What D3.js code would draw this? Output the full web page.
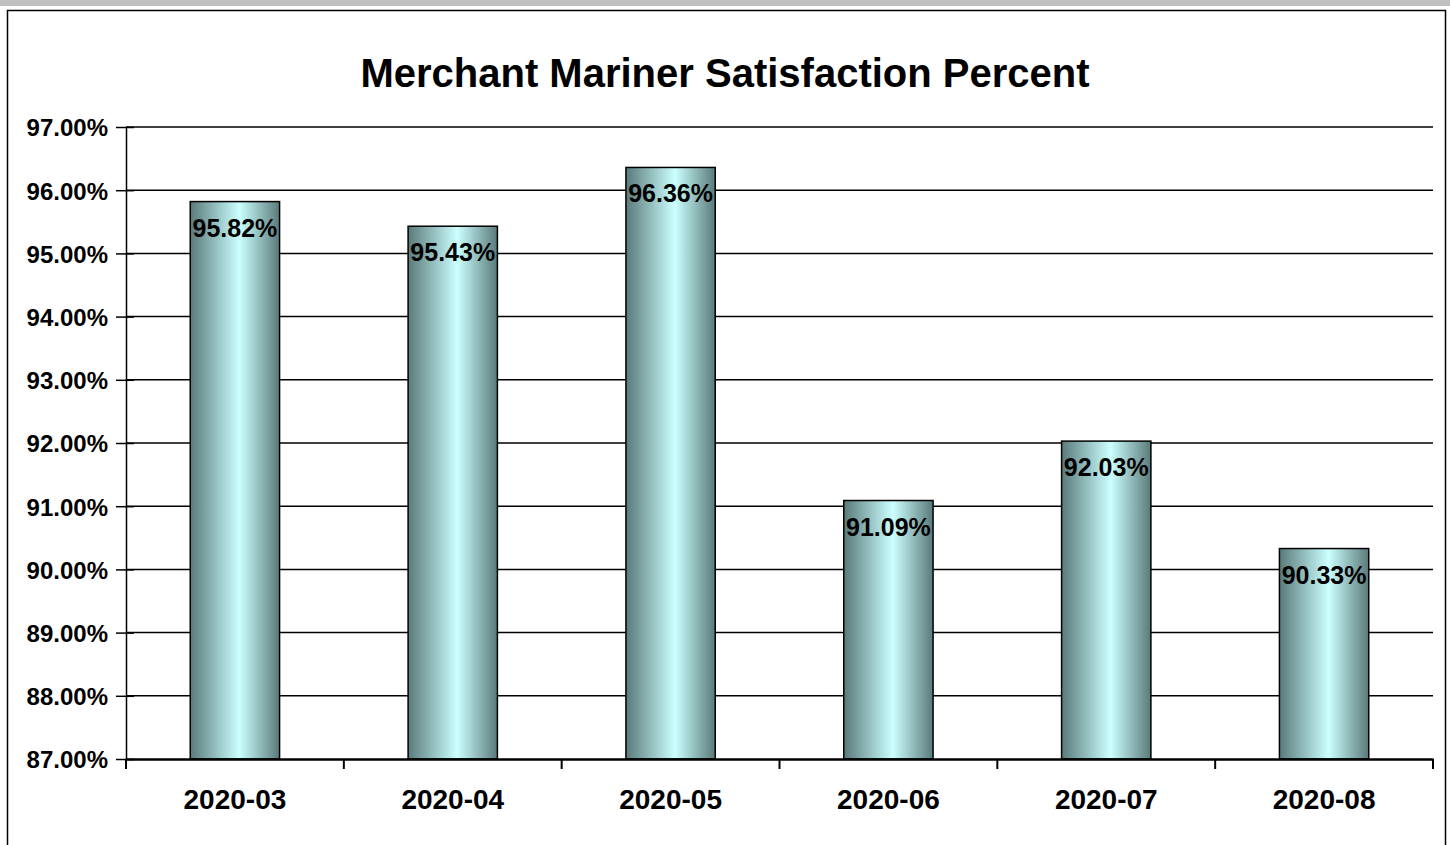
<!DOCTYPE html>
<html>
<head>
<meta charset="utf-8">
<script src="https://cdn.jsdelivr.net/npm/d3@7"></script>
<style>
  html, body { margin: 0; padding: 0; background: #fff; }
  svg { display: block; font-family: Arial, "Liberation Sans", sans-serif; }
</style>
</head>
<body>
<div id="chart"></div>
<script>
const months = ["2020-03", "2020-04", "2020-05", "2020-06", "2020-07", "2020-08"];
const satisfaction = [95.82, 95.43, 96.36, 91.09, 92.03, 90.33];
const yTicks = [87, 88, 89, 90, 91, 92, 93, 94, 95, 96, 97];
const chartTitle = "Merchant Mariner Satisfaction Percent";

const W = 1450, H = 845;
const plot = {left: 126, top: 127, right: 1433, bottom: 759};
const FONT = "Arial, 'Liberation Sans', sans-serif";

const svg = d3.select("#chart").append("svg")
    .attr("width", W)
    .attr("height", H);

// grey strip on top and the chart frame
svg.append("rect").attr("x", 0).attr("y", 0).attr("width", W).attr("height", 6).attr("fill", "#c0c0c0");
svg.append("rect")
    .attr("x", 7.5).attr("y", 10.5)
    .attr("width", 1438).attr("height", 845)
    .attr("fill", "#fff").attr("stroke", "#000").attr("stroke-width", 1.5);

const grad = svg.append("defs").append("linearGradient")
    .attr("id", "barGrad")
    .attr("x1", "0%").attr("x2", "100%").attr("y1", "0%").attr("y2", "0%");
grad.append("stop").attr("offset", "0%").attr("stop-color", "#5a7a7a");
grad.append("stop").attr("offset", "55%").attr("stop-color", "#ccffff");
grad.append("stop").attr("offset", "100%").attr("stop-color", "#5a7a7a");

const x = d3.scaleBand()
    .domain(months)
    .range([plot.left, plot.right])
    .paddingInner(0.59)
    .paddingOuter(0.295);

const y = d3.scaleLinear()
    .domain([87, 97])
    .range([plot.bottom, plot.top]);

// gridlines
svg.append("g")
    .selectAll("line")
    .data(yTicks.slice(1))
    .join("line")
    .attr("x1", plot.left).attr("x2", plot.right)
    .attr("y1", d => y(d)).attr("y2", d => y(d))
    .attr("stroke", "#000").attr("stroke-width", 1.5);

// bars
svg.append("g")
    .selectAll("rect")
    .data(satisfaction)
    .join("rect")
    .attr("x", (d, i) => x(months[i]))
    .attr("y", d => y(d))
    .attr("width", x.bandwidth())
    .attr("height", d => y(87) - y(d))
    .attr("fill", "url(#barGrad)")
    .attr("stroke", "#000").attr("stroke-width", 1.5);

// value labels
svg.append("g")
    .selectAll("text")
    .data(satisfaction)
    .join("text")
    .attr("x", (d, i) => x(months[i]) + x.bandwidth() / 2)
    .attr("y", d => y(d) + 35)
    .attr("text-anchor", "middle")
    .attr("font-size", 25)
    .attr("font-weight", "bold")
    .text(d => d.toFixed(2) + "%");

// y axis
const yAxis = svg.append("g")
    .attr("transform", `translate(${plot.left},0)`)
    .call(d3.axisLeft(y).tickValues(yTicks).tickSize(0).tickPadding(18)
        .tickFormat(d => d.toFixed(2) + "%"));
yAxis.select(".domain").attr("stroke-width", 1.5);
yAxis.selectAll(".tick text")
    .attr("font-size", 24).attr("font-weight", "bold").attr("fill", "#000")
    .attr("font-family", FONT).attr("dy", "0.37em");
yAxis.selectAll(".tick").append("line")
    .attr("x1", -10).attr("x2", 8)
    .attr("stroke", "#000").attr("stroke-width", 1.5);

// x axis
const xAxis = svg.append("g")
    .attr("transform", `translate(0,${plot.bottom})`)
    .call(d3.axisBottom(x).tickSize(0).tickPadding(30));
xAxis.select(".domain").attr("stroke-width", 2.5);
xAxis.selectAll(".tick text")
    .attr("font-size", 28).attr("font-weight", "bold").attr("fill", "#000")
    .attr("font-family", FONT);
// category separators below the axis
const seps = d3.range(months.length + 1).map(i => plot.left + i * x.step());
svg.append("g")
    .selectAll("line")
    .data(seps)
    .join("line")
    .attr("x1", d => d).attr("x2", d => d)
    .attr("y1", plot.bottom).attr("y2", plot.bottom + 10)
    .attr("stroke", "#000").attr("stroke-width", 2);

svg.append("text")
    .attr("x", 725)
    .attr("y", 87)
    .attr("text-anchor", "middle")
    .attr("font-size", 40)
    .attr("font-weight", "bold")
    .text(chartTitle);
</script>
</body>
</html>
